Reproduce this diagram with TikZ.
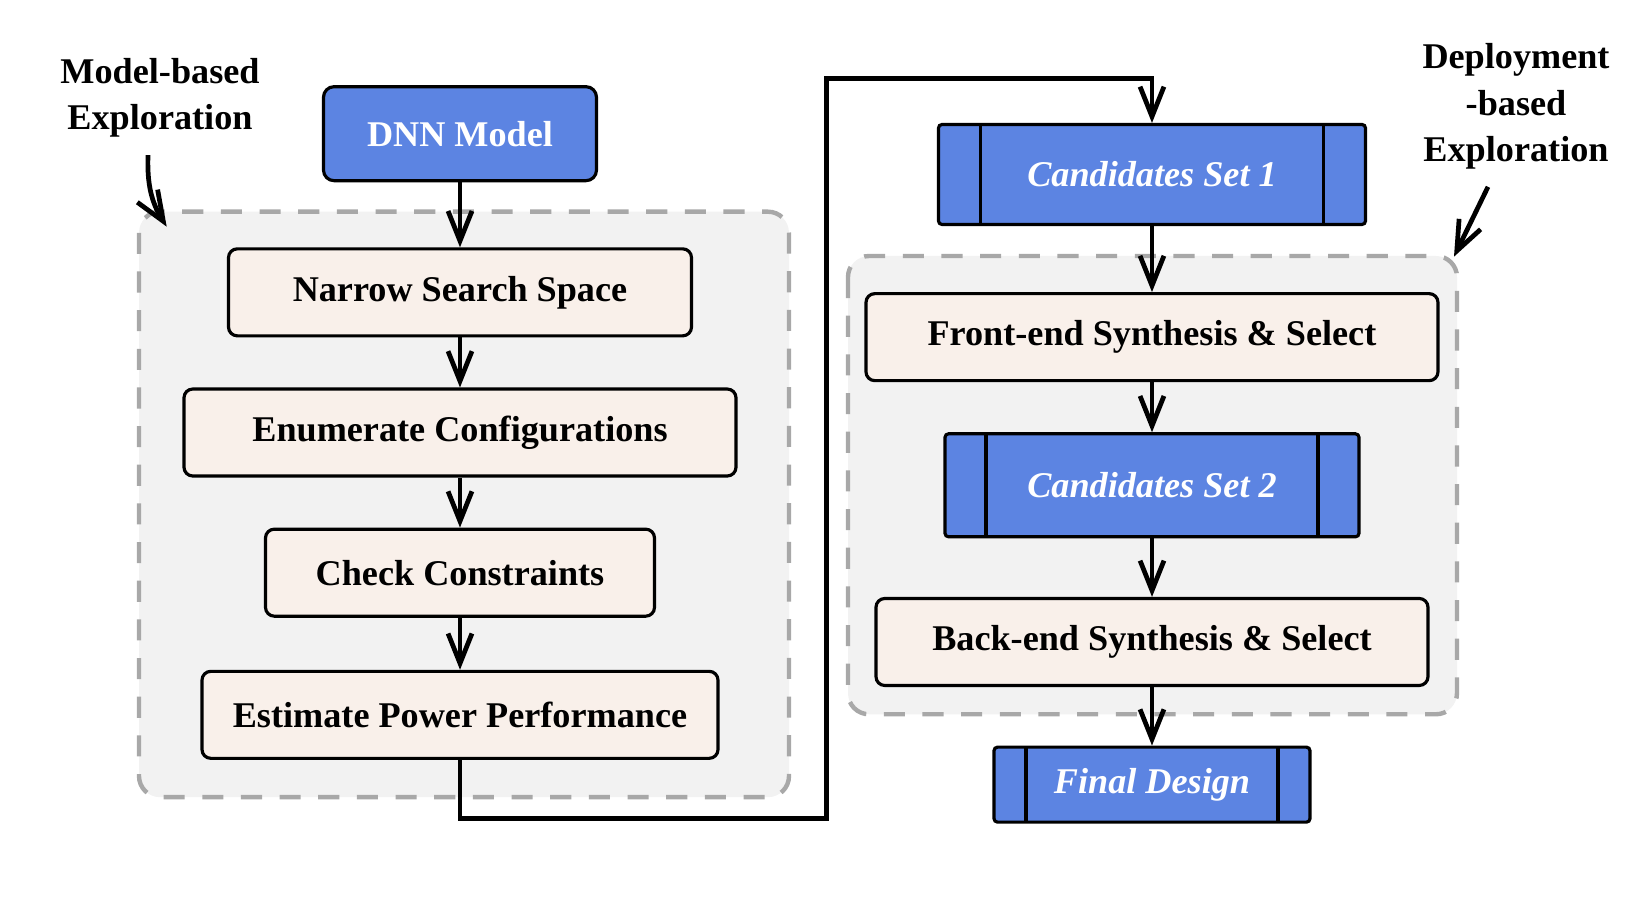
\documentclass[tikz,border=0pt]{standalone}
\usepackage{fontspec}
\setmainfont{Liberation Serif}
\usetikzlibrary{arrows.meta}
\usetikzlibrary{positioning}

\definecolor{boxblue}{RGB}{92,132,226}
\definecolor{stagefill}{RGB}{249,240,234}
\definecolor{groupfill}{RGB}{242,242,242}
\definecolor{groupline}{RGB}{168,168,168}
\newcommand{\flowsize}{\fontsize{10.3}{13.2}\selectfont}

\tikzset{
  flow/.style={line width=1.35pt,-{Straight Barb[length=8.5pt,width=6.8pt]}},
  stage/.style={draw,line width=0.9pt,fill=stagefill,rounded corners=2.5pt,
    font=\flowsize\bfseries,minimum height=0.87cm},
  model/.style={draw,line width=0.9pt,fill=boxblue,rounded corners=3pt,text=white,
    font=\flowsize\bfseries,minimum width=2.73cm,minimum height=0.94cm},
  setbox/.style={draw,line width=0.9pt,fill=boxblue,rounded corners=1pt,text=white,
    font=\flowsize\bfseries\itshape,
    path picture={\draw[line width=0.9pt]
      ([xshift=#1]path picture bounding box.north west) -- ([xshift=#1]path picture bounding box.south west)
      ([xshift=-#1]path picture bounding box.north east) -- ([xshift=-#1]path picture bounding box.south east);}},
  group/.style={draw=groupline,fill=groupfill,line width=1.25pt,dash pattern=on 6pt off 5pt,rounded corners=6pt},
  tag/.style={font=\flowsize\bfseries,align=center}
}

\begin{document}
\begin{tikzpicture}
\useasboundingbox (0,0) rectangle (16.36,-8.99);
% exploration groups
\draw[group] (1.39,-2.117) rectangle (7.89,-7.972);
\draw[group] (8.48,-2.56) rectangle (14.57,-7.143);

% model-based column
\node[model] (dnn) at (4.60,-1.337) {DNN Model};
\node[stage,minimum width=4.63cm,below=0.65cm of dnn] (narrow) {Narrow Search Space};
\node[stage,minimum width=5.52cm,below=0.50cm of narrow] (enum) {Enumerate Configurations};
\node[stage,minimum width=3.89cm,below=0.50cm of enum] (check) {Check Constraints};
\node[stage,minimum width=5.16cm,below=0.52cm of check] (est) {Estimate Power Performance};

% deployment-based column
\node[setbox=0.42cm,minimum width=4.27cm,minimum height=1.0cm] (cs1) at (11.52,-1.745) {Candidates Set 1};
\node[stage,minimum width=5.72cm,below=0.66cm of cs1] (front) {Front-end Synthesis \& Select};
\node[setbox=0.41cm,minimum width=4.14cm,minimum height=1.03cm,below=0.50cm of front] (cs2) {Candidates Set 2};
\node[stage,minimum width=5.52cm,below=0.585cm of cs2] (back) {Back-end Synthesis \& Select};
\node[setbox=0.32cm,minimum width=3.16cm,minimum height=0.75cm,below=0.585cm of back] (final) {Final Design};

% labels
\node[tag,anchor=base] (mlabel) at (1.60,-1.30) {Model-based\\Exploration};
\node[tag,anchor=base] (dlabel) at (15.16,-1.617) {Deployment\\-based\\Exploration};
\coordinate (mtip) at (1.667,-2.267);
\coordinate (dtip) at (14.54,-2.567);
\draw[flow] ([xshift=-1.2mm,yshift=-0.5mm]mlabel.south) to[out=-92,in=122] (mtip);
\draw[flow] ([xshift=-2.8mm,yshift=-0.5mm]dlabel.south) -- (dtip);

\draw[flow] (dnn) -- (narrow);
\draw[flow] (narrow) -- (enum);
\draw[flow] (enum) -- (check);
\draw[flow] (check) -- (est);

\coordinate (low) at (8.267,-8.183);
\coordinate (high) at (8.267,-0.783);
\draw[flow] (est.south) |- (low) -- (high) -| (cs1.north);

\draw[flow] (cs1) -- (front);
\draw[flow] (front) -- (cs2);
\draw[flow] (cs2) -- (back);
\draw[flow] (back) -- (final);
\end{tikzpicture}
\end{document}
